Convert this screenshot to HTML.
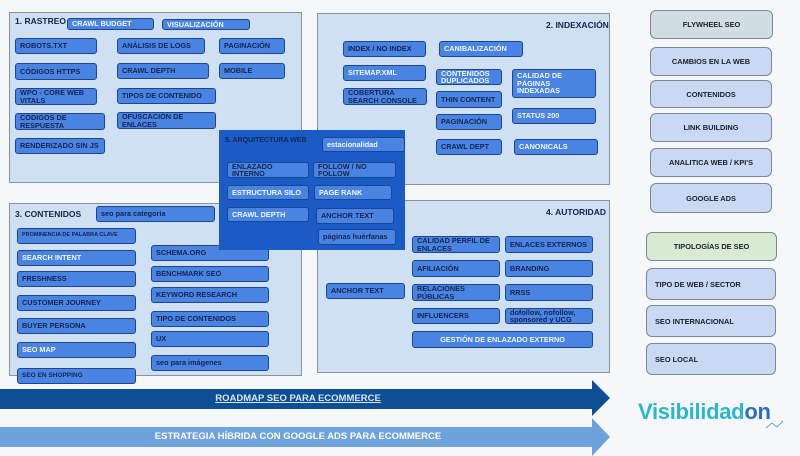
<!DOCTYPE html>
<html><head><meta charset="utf-8"><style>
*{margin:0;padding:0;box-sizing:border-box}
body{width:800px;height:456px;background:#f6f7f9;position:relative;overflow:hidden;font-family:"Liberation Sans",sans-serif;font-weight:bold}
.p{position:absolute;background:#cfe0f3;border:1px solid #8a929c}
.a{position:absolute;background:#1a5bc6}
.b{position:absolute;background:#4a84e2;border:1px solid #1f4590;border-radius:3px;font-size:7.3px;line-height:7.5px;color:#15244f;padding:0 4px;display:flex;align-items:center;overflow:hidden}
.n{white-space:nowrap}
.w{color:#f2f6ff}
.t{position:absolute;font-size:8.5px;color:#15244f}
.r{position:absolute;border:1px solid #7d8796;border-radius:6px;background:#c9d9f4;font-size:7.4px;color:#1b1f2e;display:flex;align-items:center;justify-content:center}
.l{justify-content:flex-start;padding-left:8px}
</style></head><body>
<div class="p" style="left:9px;top:12px;width:293px;height:171px"></div>
<div class="p" style="left:317px;top:13px;width:293px;height:172px"></div>
<div class="p" style="left:9px;top:203px;width:293px;height:173px"></div>
<div class="p" style="left:317px;top:200px;width:293px;height:173px"></div>

<div class="t" style="left:15px;top:16px">1. RASTREO</div>
<div class="b w n" style="left:67px;top:18px;width:87px;height:12px">CRAWL BUDGET</div>
<div class="b w n" style="left:162px;top:19px;width:88px;height:11px">VISUALIZACIÓN</div>
<div class="b n" style="left:15px;top:38px;width:82px;height:16px">ROBOTS.TXT</div>
<div class="b n" style="left:117px;top:38px;width:88px;height:16px">ANÁLISIS DE LOGS</div>
<div class="b n" style="left:219px;top:38px;width:66px;height:16px">PAGINACIÓN</div>
<div class="b n" style="left:15px;top:63px;width:82px;height:17px">CÓDIGOS HTTPS</div>
<div class="b n" style="left:117px;top:63px;width:92px;height:16px">CRAWL DEPTH</div>
<div class="b n" style="left:219px;top:63px;width:66px;height:16px">MOBILE</div>
<div class="b" style="left:15px;top:88px;width:82px;height:17px">WPO - CORE WEB VITALS</div>
<div class="b n" style="left:117px;top:88px;width:99px;height:16px">TIPOS DE CONTENIDO</div>
<div class="b" style="left:15px;top:113px;width:90px;height:17px">CÓDIGOS DE RESPUESTA</div>
<div class="b" style="left:117px;top:112px;width:99px;height:17px">OFUSCACIÓN DE ENLACES</div>
<div class="b n" style="left:15px;top:138px;width:90px;height:16px">RENDERIZADO SIN JS</div>

<div class="t" style="left:546px;top:20px">2. INDEXACIÓN</div>
<div class="b n" style="left:343px;top:41px;width:83px;height:16px">INDEX / NO INDEX</div>
<div class="b w n" style="left:439px;top:41px;width:84px;height:16px">CANIBALIZACIÓN</div>
<div class="b w n" style="left:343px;top:65px;width:83px;height:16px">SITEMAP.XML</div>
<div class="b w" style="left:436px;top:69px;width:66px;height:16px">CONTENIDOS DUPLICADOS</div>
<div class="b w" style="left:512px;top:69px;width:84px;height:29px">CALIDAD DE PÁGINAS INDEXADAS</div>
<div class="b" style="left:343px;top:88px;width:84px;height:17px">COBERTURA SEARCH CONSOLE</div>
<div class="b n" style="left:436px;top:91px;width:66px;height:17px">THIN CONTENT</div>
<div class="b w n" style="left:512px;top:108px;width:84px;height:16px">STATUS 200</div>
<div class="b n" style="left:436px;top:114px;width:66px;height:16px">PAGINACIÓN</div>
<div class="b n" style="left:436px;top:139px;width:66px;height:16px">CRAWL DEPT</div>
<div class="b w n" style="left:514px;top:139px;width:84px;height:16px">CANONICALS</div>

<div class="t" style="left:15px;top:209px">3. CONTENIDOS</div>
<div class="b n" style="left:96px;top:206px;width:119px;height:16px">seo para categoria</div>
<div class="b n" style="left:17px;top:228px;width:119px;height:16px;font-size:5.5px">PROMINENCIA DE PALABRA CLAVE</div>
<div class="b w n" style="left:17px;top:250px;width:119px;height:16px">SEARCH INTENT</div>
<div class="b n" style="left:17px;top:271px;width:119px;height:16px">FRESHNESS</div>
<div class="b n" style="left:17px;top:295px;width:119px;height:16px">CUSTOMER JOURNEY</div>
<div class="b n" style="left:17px;top:318px;width:119px;height:16px">BUYER PERSONA</div>
<div class="b w n" style="left:17px;top:342px;width:119px;height:16px">SEO MAP</div>
<div class="b n" style="left:17px;top:368px;width:119px;height:16px;font-size:6.5px">SEO EN SHOPPING</div>
<div class="b n" style="left:151px;top:245px;width:118px;height:16px">SCHEMA.ORG</div>
<div class="b n" style="left:151px;top:266px;width:118px;height:16px">BENCHMARK SEO</div>
<div class="b n" style="left:151px;top:287px;width:118px;height:16px">KEYWORD RESEARCH</div>
<div class="b n" style="left:151px;top:311px;width:118px;height:16px">TIPO DE CONTENIDOS</div>
<div class="b n" style="left:151px;top:331px;width:118px;height:16px">UX</div>
<div class="b n" style="left:151px;top:355px;width:118px;height:16px">seo para imágenes</div>

<div class="t" style="left:546px;top:207px">4. AUTORIDAD</div>
<div class="b" style="left:412px;top:236px;width:88px;height:17px">CALIDAD PERFIL DE ENLACES</div>
<div class="b n" style="left:505px;top:236px;width:88px;height:17px">ENLACES EXTERNOS</div>
<div class="b n" style="left:412px;top:260px;width:88px;height:17px">AFILIACIÓN</div>
<div class="b n" style="left:505px;top:260px;width:88px;height:17px">BRANDING</div>
<div class="b n" style="left:326px;top:283px;width:79px;height:16px">ANCHOR TEXT</div>
<div class="b" style="left:412px;top:284px;width:88px;height:17px">RELACIONES PÚBLICAS</div>
<div class="b n" style="left:505px;top:284px;width:88px;height:17px">RRSS</div>
<div class="b n" style="left:412px;top:308px;width:88px;height:16px">INFLUENCERS</div>
<div class="b" style="left:505px;top:308px;width:88px;height:16px">dofollow, nofollow, sponsored y UCG</div>
<div class="b w n" style="left:412px;top:331px;width:181px;height:17px;justify-content:center">GESTIÓN DE ENLAZADO EXTERNO</div>

<div class="a" style="left:219px;top:130px;width:186px;height:120px"></div>
<div class="t" style="left:225px;top:137px;font-size:7px;color:#15244f">5. ARQUITECTURA WEB</div>
<div class="b w n" style="left:322px;top:137px;width:83px;height:15px">estacionalidad</div>
<div class="b" style="left:227px;top:162px;width:82px;height:16px">ENLAZADO INTERNO</div>
<div class="b" style="left:313px;top:162px;width:83px;height:16px">FOLLOW / NO FOLLOW</div>
<div class="b w n" style="left:227px;top:185px;width:82px;height:15px">ESTRUCTURA SILO</div>
<div class="b w n" style="left:314px;top:185px;width:78px;height:15px">PAGE RANK</div>
<div class="b w n" style="left:227px;top:207px;width:82px;height:15px">CRAWL DEPTH</div>
<div class="b n" style="left:316px;top:208px;width:78px;height:16px">ANCHOR TEXT</div>
<div class="b" style="left:318px;top:229px;width:78px;height:16px">páginas huérfanas</div>

<div class="r" style="left:650px;top:10px;width:123px;height:29px;background:#d0dde2">FLYWHEEL SEO</div>
<div class="r" style="left:650px;top:47px;width:122px;height:29px">CAMBIOS EN LA WEB</div>
<div class="r" style="left:650px;top:80px;width:122px;height:28px">CONTENIDOS</div>
<div class="r" style="left:650px;top:113px;width:122px;height:29px">LINK BUILDING</div>
<div class="r" style="left:650px;top:148px;width:122px;height:29px">ANALITICA WEB / KPI'S</div>
<div class="r" style="left:650px;top:183px;width:122px;height:30px">GOOGLE ADS</div>
<div class="r" style="left:646px;top:232px;width:131px;height:29px;background:#d9ead3">TIPOLOGÍAS DE SEO</div>
<div class="r l" style="left:646px;top:268px;width:130px;height:32px">TIPO DE WEB / SECTOR</div>
<div class="r l" style="left:646px;top:305px;width:130px;height:32px">SEO INTERNACIONAL</div>
<div class="r l" style="left:646px;top:343px;width:130px;height:32px">SEO LOCAL</div>

<svg style="position:absolute;left:0;top:0" width="800" height="456">
<polygon points="0,389 592,389 592,380 610,398 592,416 592,409 0,409" fill="#0d4e94"/>
<polygon points="0,427 592,427 592,418 610,437 592,456 592,447 0,447" fill="#6da2dc"/>
<polyline points="766,428 772,423 777,427 783,421" fill="none" stroke="#5aa6d6" stroke-width="1"/>
</svg>
<div style="position:absolute;left:0;top:393px;width:596px;text-align:center;font-size:9.5px;color:#d9e6f7;text-decoration:underline">ROADMAP SEO PARA ECOMMERCE</div>
<div style="position:absolute;left:0;top:431px;width:596px;text-align:center;font-size:9.5px;color:#fff">ESTRATEGIA HÍBRIDA CON GOOGLE ADS PARA ECOMMERCE</div>
<div style="position:absolute;left:638px;top:399px;font-size:22px;color:#2cb8c9;letter-spacing:-0.3px">Visibilidad<span style="color:#2a6fc0">on</span></div>
</body></html>
